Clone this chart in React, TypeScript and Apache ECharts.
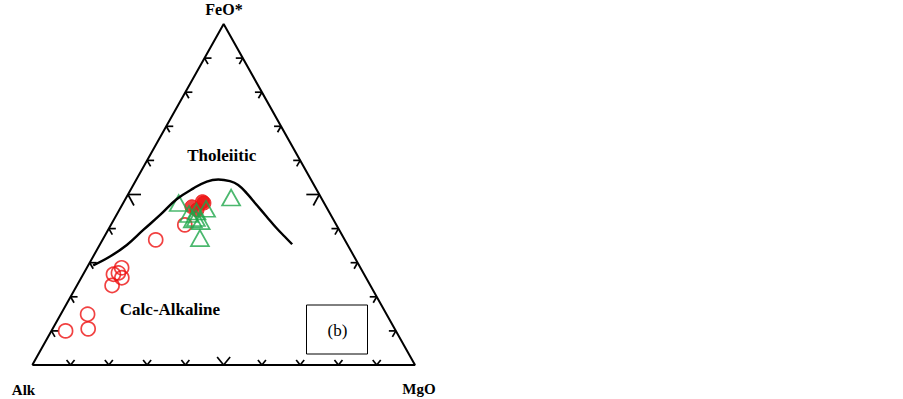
import React, { useEffect, useRef } from "react";
import * as echarts from "echarts";

// Ternary data as [Alk, FeO*, MgO] (wt.% proportions)
const openCircles: number[][] = [
  [86.3, 10.0, 3.7], [78.1, 14.9, 7.0], [80.1, 10.6, 9.3], [67.5, 23.3, 9.2],
  [65.5, 26.6, 7.9], [62.4, 28.5, 9.1], [63.8, 25.6, 10.6], [64.0, 27.0, 9.0],
  [49.4, 36.7, 13.9], [39.6, 41.1, 19.3],
];
const filledCircles: number[][] = [
  [35.1, 46.4, 18.5], [31.6, 47.9, 20.5], [34.2, 45.5, 20.3], [31.4, 47.5, 21.1],
];
const triangles: number[][] = [
  [38.0, 47.5, 14.5], [23.5, 49.1, 27.4], [31.7, 45.8, 22.5], [36.9, 44.3, 18.8],
  [35.7, 43.1, 21.2], [34.9, 42.2, 22.9], [36.7, 42.7, 20.6], [37.6, 37.2, 25.2],
  [34.6, 45.0, 20.4],
];
// Tholeiitic / Calc-alkaline boundary (Irvine & Baragar)
const boundary: number[][] = [
  [69.5, 29.2, 1.3], [63.8, 31.8, 4.4], [57.7, 35.2, 7.1], [51.2, 39.6, 9.2],
  [44.6, 44.0, 11.4], [38.0, 48.6, 13.4], [32.0, 51.8, 16.2], [27.5, 53.8, 18.7],
  [24.2, 54.4, 21.4], [21.4, 53.9, 24.7], [19.8, 52.8, 27.4], [18.8, 50.4, 30.8],
  [17.9, 46.9, 35.2], [17.0, 43.5, 39.5], [16.1, 40.1, 43.8], [15.2, 37.6, 47.2],
  [14.4, 35.4, 50.2],
];
const vertices: number[][] = [[100, 0, 0], [0, 100, 0], [0, 0, 100], [100, 0, 0]];
const tickFractions: number[] = [0.1, 0.2, 0.3, 0.4, 0.5, 0.6, 0.7, 0.8, 0.9];
const vertexLabels: string[] = ["Alk", "FeO*", "MgO"];
const fieldLabels: string[] = ["Tholeiitic", "Calc-Alkaline"];
const fieldLabelPositions: number[][] = [[19.8, 61.4, 18.8], [55.9, 16.3, 27.8]];
const panelLabel = "(b)";

function toXY(p: number[]): number[] {
  const s = p[0] + p[1] + p[2];
  const f = p[1] / s;
  const m = p[2] / s;
  return [m + f / 2, f];
}

const SERIF = "'Liberation Serif', 'Times New Roman', serif";
const RED = "#ee1111";
const GREEN = "#1ea64a";

export default function App() {
  const ref = useRef<HTMLDivElement>(null);
  useEffect(() => {
    if (!ref.current) return;
    const chart = echarts.init(ref.current, undefined, { renderer: "svg" });

    const tickData: number[][] = [];
    tickFractions.forEach((t) => {
      const big = Math.abs(t - 0.5) < 1e-6 ? 1 : 0;
      tickData.push([...toXY([1 - t, 0, t]), 0, big]); // bottom
      tickData.push([...toXY([1 - t, t, 0]), 1, big]); // left
      tickData.push([...toXY([0, t, 1 - t]), 2, big]); // right
    });

    const lineStyle = { stroke: "#000", lineWidth: 1.7 };
    const renderTick = (params: any, api: any) => {
      const c = api.coord([api.value(0), api.value(1)]);
      const kind = api.value(2);
      const big = api.value(3) === 1;
      let a: number[], b: number[];
      if (kind === 0) {
        a = big ? [-6.5, -8] : [-4, -5];
        b = big ? [6.5, -8] : [4, -5];
      } else if (kind === 1) {
        a = big ? [13, 0] : [7, 0];
        b = big ? [6, 11] : [3.5, 6];
      } else {
        a = big ? [-13, 0] : [-7, 0];
        b = big ? [-6, 11] : [-3.5, 6];
      }
      return {
        type: "group",
        children: [
          { type: "line", shape: { x1: c[0], y1: c[1], x2: c[0] + a[0], y2: c[1] + a[1] }, style: lineStyle },
          { type: "line", shape: { x1: c[0], y1: c[1], x2: c[0] + b[0], y2: c[1] + b[1] }, style: lineStyle },
        ],
      };
    };

    const gridLeft = 32.3, gridTop = 24, gridW = 382.7, gridH = 341;
    const px = (x: number) => gridLeft + x * gridW;
    const py = (y: number) => gridTop + (1 - y) * gridH;

    const boldText = (text: string, x: number, y: number, size: number) => ({
      type: "text",
      x, y,
      style: {
        text, fill: "#000", font: `bold ${size}px ${SERIF}`,
        textAlign: "center", textVerticalAlign: "middle",
      },
    });

    const thol = toXY(fieldLabelPositions[0]);
    const calc = toXY(fieldLabelPositions[1]);

    chart.setOption({
      animation: false,
      backgroundColor: "#fff",
      grid: { left: gridLeft, top: gridTop, width: gridW, height: gridH },
      xAxis: { type: "value", min: 0, max: 1, show: false },
      yAxis: { type: "value", min: 0, max: 1, show: false },
      graphic: [
        boldText(vertexLabels[1], 224, 9, 16),
        boldText(vertexLabels[0], 23.5, 390, 15),
        boldText(vertexLabels[2], 419, 389, 15),
        boldText(fieldLabels[0], px(thol[0]), py(thol[1]), 17),
        boldText(fieldLabels[1], px(calc[0]), py(calc[1]), 17),
        {
          type: "rect",
          shape: { x: 306.5, y: 305, width: 61, height: 49 },
          style: { fill: "none", stroke: "#000", lineWidth: 1 },
        },
        {
          type: "text",
          x: 337.5, y: 330,
          style: {
            text: panelLabel, fill: "#000", font: `17px ${SERIF}`,
            textAlign: "center", textVerticalAlign: "middle",
          },
        },
      ],
      series: [
        {
          type: "line",
          data: vertices.map(toXY),
          symbol: "none",
          lineStyle: { color: "#000", width: 2 },
          silent: true,
        },
        {
          type: "custom",
          data: tickData,
          renderItem: renderTick,
          silent: true,
        },
        {
          type: "line",
          data: boundary.map(toXY),
          smooth: 0.4,
          symbol: "none",
          lineStyle: { color: "#000", width: 2.4 },
          silent: true,
        },
        {
          type: "scatter",
          data: openCircles.map(toXY),
          symbol: "circle",
          symbolSize: 14,
          itemStyle: { color: "rgba(0,0,0,0)", borderColor: RED, borderWidth: 1.7 },
        },
        {
          type: "scatter",
          data: filledCircles.map(toXY),
          symbol: "circle",
          symbolSize: 14,
          itemStyle: { color: RED, borderColor: RED, borderWidth: 1 },
        },
        {
          type: "scatter",
          data: triangles.map(toXY),
          symbol: "triangle",
          symbolSize: [18, 16],
          itemStyle: { color: "rgba(0,0,0,0)", borderColor: GREEN, borderWidth: 1.7 },
        },
      ],
    });
    return () => chart.dispose();
  }, []);

  return (
    <div
      ref={ref}
      style={{ position: "absolute", left: 0, top: 0, width: 903, height: 399, background: "#fff" }}
    />
  );
}
